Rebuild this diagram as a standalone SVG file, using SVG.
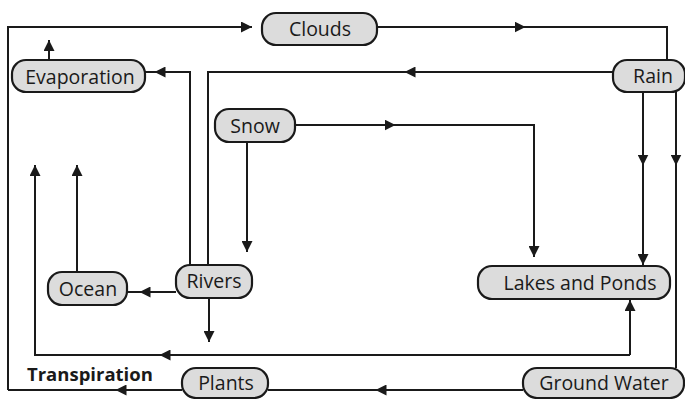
<svg xmlns="http://www.w3.org/2000/svg" width="685" height="399" viewBox="0 0 685 399">
<defs>
<marker id="ah" viewBox="0 0 10 10" refX="5" refY="5" markerWidth="11" markerHeight="11" markerUnits="userSpaceOnUse" orient="auto"><path d="M0,0 L10,5 L0,10 Z" fill="#1a1a1a"/></marker>
<marker id="end" viewBox="0 0 10 10" refX="10" refY="5" markerWidth="11" markerHeight="11" markerUnits="userSpaceOnUse" orient="auto"><path d="M0,0 L10,5 L0,10 Z" fill="#1a1a1a"/></marker>
<style>
.n rect{fill:#dcdcdc;stroke:#1a1a1a;stroke-width:2.2}
.n text{font-family:"Open Sans","Liberation Sans",sans-serif;font-size:19.5px;fill:#1a1a1a;text-anchor:middle}
.c path{fill:none;stroke:#1a1a1a;stroke-width:2}
.lbl{font-family:"Open Sans","Liberation Sans",sans-serif;font-size:18.5px;font-weight:bold;fill:#1a1a1a}
</style>
</defs>
<rect width="685" height="399" fill="#fff"/>
<g class="c">
<path d="M8,390 V27 H252" marker-end="url(#end)"/>
<path d="M377,27 H520" marker-end="url(#ah)"/>
<path d="M515,27 H667 V60"/>
<path d="M613,72 H410" marker-end="url(#ah)"/>
<path d="M412,72 H208 V265"/>
<path d="M190,265 V72 H160" marker-end="url(#ah)"/>
<path d="M160,72 H145"/>
<path d="M49,60 V40" marker-end="url(#end)"/>
<path d="M295,125 H390" marker-end="url(#ah)"/>
<path d="M388,125 H534 V257" marker-end="url(#end)"/>
<path d="M247,142 V252" marker-end="url(#end)"/>
<path d="M643,92 V160" marker-end="url(#ah)"/>
<path d="M643,158 V265" marker-end="url(#end)"/>
<path d="M676,92 V160" marker-end="url(#ah)"/>
<path d="M676,158 V368"/>
<path d="M77,272 V165" marker-end="url(#end)"/>
<path d="M630,355 V300" marker-end="url(#end)"/>
<path d="M630,355 H165" marker-end="url(#ah)"/>
<path d="M168,355 H35 V165" marker-end="url(#end)"/>
<path d="M176,292 H145" marker-end="url(#ah)"/>
<path d="M147,292 H127"/>
<path d="M209,298 V342" marker-end="url(#end)"/>
<path d="M523,390 H381" marker-end="url(#ah)"/>
<path d="M383,390 H268"/>
<path d="M182,390 H121" marker-end="url(#ah)"/>
<path d="M123,390 H8"/>
</g>
<g id="clouds" class="n"><rect x="262" y="13" width="115" height="32" rx="14"/><text x="320" y="36">Clouds</text></g>
<g id="rain" class="n"><rect x="613" y="60" width="72" height="32" rx="14"/><text x="653" y="83">Rain</text></g>
<g id="evaporation" class="n"><rect x="12" y="60" width="133" height="32" rx="14"/><text x="80" y="84">Evaporation</text></g>
<g id="snow" class="n"><rect x="215" y="109" width="80" height="33" rx="14"/><text x="255" y="133">Snow</text></g>
<g id="ocean" class="n"><rect x="48" y="272" width="79" height="33" rx="14"/><text x="88" y="296">Ocean</text></g>
<g id="rivers" class="n"><rect x="176" y="265" width="76" height="33" rx="14"/><text x="214" y="288">Rivers</text></g>
<g id="lakes" class="n"><rect x="478" y="266" width="192" height="33" rx="14"/><text x="580" y="290">Lakes and Ponds</text></g>
<g id="groundwater" class="n"><rect x="523" y="368" width="161" height="30" rx="14"/><text x="604" y="390">Ground Water</text></g>
<g id="plants" class="n"><rect x="182" y="368" width="86" height="30" rx="14"/><text x="226" y="390">Plants</text></g>
<text class="lbl" x="27" y="381">Transpiration</text>
</svg>
